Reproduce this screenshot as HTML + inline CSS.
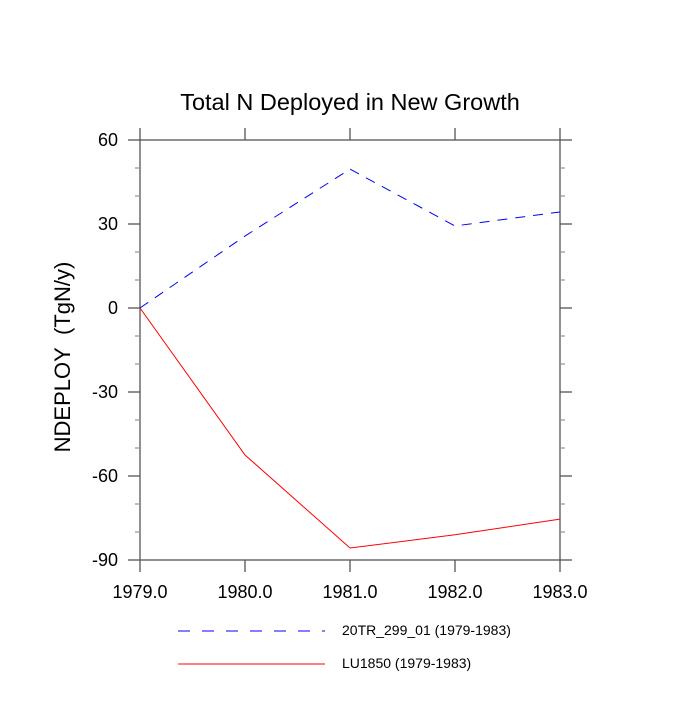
<!DOCTYPE html>
<html><head><meta charset="utf-8"><style>
body{margin:0;background:#fff}
svg text{font-family:"Liberation Sans",sans-serif;fill:#000}
</style></head><body>
<svg id="chart" width="700" height="700" xmlns="http://www.w3.org/2000/svg">
<text x="350" y="110" font-size="23.5" text-anchor="middle">Total N Deployed in New Growth</text>
<text transform="translate(70,357) rotate(-90)" font-size="22" text-anchor="middle">NDEPLOY&#160;&#160;(TgN/y)</text>
<g id="axes"></g>
<g id="series"></g>
<g>
<line x1="178" y1="631" x2="325" y2="631" stroke="#00f" stroke-dasharray="12,12"/>
<text x="342" y="635" font-size="14">20TR_299_01 (1979-1983)</text>
<line x1="178" y1="664" x2="325" y2="664" stroke="#f00"/>
<text x="342" y="668" font-size="14">LU1850 (1979-1983)</text>
</g>
</svg>
<script>
const years=[1979,1980,1981,1982,1983];
const xTickLabels=["1979.0","1980.0","1981.0","1982.0","1983.0"];
const yTicks=[60,30,0,-30,-60,-90];
const series20TR=[0,25.7,49.6,29.3,34.3];
const seriesLU1850=[0,-52.5,-85.7,-81,-75.4];
const L=140,R=560,T=140,B=560;
const xs=v=>L+(v-1979)/(1983-1979)*(R-L);
const ys=v=>T+(60-v)/150*(B-T);
const NS="http://www.w3.org/2000/svg";
function mk(tag,attrs,parent){const e=document.createElementNS(NS,tag);for(const k in attrs)e.setAttribute(k,attrs[k]);parent.appendChild(e);return e;}
const ax=document.getElementById('axes');
const frame=mk('rect',{x:L,y:T,width:R-L,height:B-T,fill:'none',stroke:'#555','stroke-width':1.3},ax);


for(let v=-90;v<=60;v+=10){
  const y=ys(v);const major=v%30===0;const len=major?12:5;
  const t1=mk('line',{x1:L-len,y1:y,x2:L,y2:y,stroke:major?'#555':'#999','stroke-width':1.3},ax);
  
  
  const t2=mk('line',{x1:R,y1:y,x2:R+len,y2:y,stroke:major?'#555':'#999','stroke-width':1.3},ax);
  
  
}
yTicks.forEach(v=>{
  const t=mk('text',{x:L-22,y:ys(v)+6,'font-size':18,'text-anchor':'end'},ax);t.textContent=v;
  
  
});
years.forEach((yr,i)=>{
  const x=xs(yr);
  const a=mk('line',{x1:x,y1:B,x2:x,y2:B+12,stroke:'#555','stroke-width':1.3},ax);
  
  
  const b=mk('line',{x1:x,y1:T-12,x2:x,y2:T,stroke:'#555','stroke-width':1.3},ax);
  
  
  const t=mk('text',{x:x,y:598,'font-size':18,'text-anchor':'middle'},ax);t.textContent=xTickLabels[i];
  
  
});
const sg=document.getElementById('series');
const p1=mk('polyline',{points:years.map((y,i)=>xs(y)+','+ys(series20TR[i])).join(' '),fill:'none',stroke:'#00f','stroke-dasharray':'10,8'},sg);


const p2=mk('polyline',{points:years.map((y,i)=>xs(y)+','+ys(seriesLU1850[i])).join(' '),fill:'none',stroke:'#f00'},sg);


</script>
</body></html>
